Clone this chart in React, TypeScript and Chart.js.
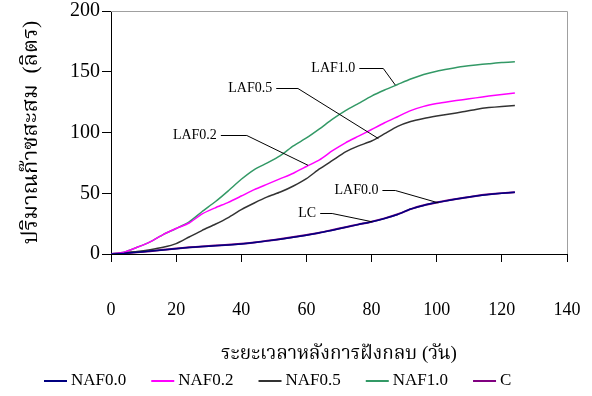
import React, { useEffect, useRef } from "react";
import { Chart, registerables } from "chart.js";

Chart.register(...registerables);

// ---- data ----
const days = [0, 4, 8, 12, 16, 20, 24, 28, 32, 36, 40, 44, 48, 52, 56, 60, 64, 68, 72, 76, 80, 84, 88, 92, 96, 100, 104, 108, 112, 116, 120, 124];
const naf00 = [0, 0.6, 1.5, 2.4, 3.3, 4.4, 5.4, 6.1, 6.8, 7.5, 8.3, 9.4, 10.8, 12.2, 13.8, 15.5, 17.4, 19.6, 22, 24.3, 26.5, 29.2, 32.5, 37, 40, 42.3, 44.3, 46.1, 47.7, 49, 50, 50.8];
const naf02 = [0, 1.5, 5.5, 10, 16, 21, 25.5, 33, 38, 42.5, 47.7, 53, 57.5, 62, 66.5, 72, 77.5, 85, 91.5, 97, 102.5, 108, 113, 118, 121.5, 123.8, 125.5, 127, 128.5, 130, 131.2, 132.5];
const naf05 = [0, 1, 2, 3.5, 5.5, 8.5, 14, 19.5, 24.5, 30, 36.5, 42, 47, 51, 56, 62, 70, 77, 84, 89, 93, 99, 105, 109, 111.5, 113.5, 115.3, 117, 119, 120.5, 121.5, 122.2];
const naf10 = [0, 1.5, 5.5, 10, 16, 21, 26.5, 35, 43, 52, 61.5, 69.5, 75, 81, 89, 95.5, 103, 111, 118, 124, 130, 135, 139.5, 144, 147.8, 150.5, 152.5, 154.3, 155.6, 156.6, 157.6, 158.2];
const ctrl = [0, 0.5, 1.4, 2.3, 3.4, 4.5, 5.5, 6.2, 6.9, 7.6, 8.4, 9.5, 10.9, 12.3, 13.9, 15.6, 17.5, 19.8, 22.1, 24.4, 26.6, 29.3, 32.7, 36.9, 40.1, 42.4, 44.4, 46.1, 47.8, 49.1, 50.1, 50.9];

const seriesNames = ["NAF0.0", "NAF0.2", "NAF0.5", "NAF1.0", "C"];
const seriesValues = [naf00, naf02, naf05, naf10, ctrl];
const seriesColors = ["#000080", "#ff00ff", "#333333", "#339966", "#800080"];

const xTitle = "ระยะเวลาหลังการฝังกลบ (วัน)";
const yTitle = "ปริมาณก๊าซสะสม  (ลิตร)";

// annotation callouts (in data units)
const annLabels = ["LAF1.0", "LAF0.5", "LAF0.2", "LAF0.0", "LC"];
const annTextX = [75.0, 49.5, 32.5, 82.1, 63.0];
const annTextY = [153, 136.6, 98, 52.8, 33.8];
const annElbowX = [83.6, 57.4, 41.7, 87.3, 67.9];
const annTargetX = [87.3, 82.1, 60.5, 100.5, 80.2];
const annTargetY = [139, 95, 73, 42.1, 26.5];

const SERIF = '"Liberation Serif", "Times New Roman", "Noto Serif Thai", "Noto Sans Thai", Loma, Garuda, serif';

const framePlugin = {
  id: "frame",
  beforeDatasetsDraw(chart: any) {
    const { ctx, chartArea } = chart;
    ctx.save();
    ctx.strokeStyle = "#a0a0a0";
    ctx.lineWidth = 1;
    ctx.beginPath();
    ctx.moveTo(chartArea.left, chartArea.top + 0.5);
    ctx.lineTo(chartArea.right + 0.5, chartArea.top + 0.5);
    ctx.lineTo(chartArea.right + 0.5, chartArea.bottom);
    ctx.stroke();
    ctx.restore();
  },
};

const annotationPlugin = {
  id: "callouts",
  afterDatasetsDraw(chart: any) {
    const { ctx } = chart;
    const xs = chart.scales.x;
    const ys = chart.scales.y;
    ctx.save();
    ctx.font = `14px ${SERIF}`;
    ctx.fillStyle = "#000";
    ctx.strokeStyle = "#000";
    ctx.lineWidth = 1;
    ctx.textAlign = "right";
    ctx.textBaseline = "middle";
    annLabels.forEach((lab, i) => {
      const tx = xs.getPixelForValue(annTextX[i]);
      const ty = ys.getPixelForValue(annTextY[i]);
      ctx.fillText(lab, tx, ty);
      ctx.beginPath();
      ctx.moveTo(tx + 4, Math.round(ty) + 0.5);
      ctx.lineTo(xs.getPixelForValue(annElbowX[i]), Math.round(ty) + 0.5);
      ctx.lineTo(xs.getPixelForValue(annTargetX[i]), ys.getPixelForValue(annTargetY[i]));
      ctx.stroke();
    });
    ctx.restore();
  },
};

const legendPlugin = {
  id: "customLegend",
  afterDraw(chart: any) {
    const { ctx } = chart;
    ctx.save();
    ctx.font = `17px ${SERIF}`;
    ctx.textAlign = "left";
    ctx.textBaseline = "middle";
    const y = 381;
    let x = 44;
    seriesNames.forEach((name, i) => {
      ctx.strokeStyle = seriesColors[i];
      ctx.lineWidth = 2;
      ctx.beginPath();
      ctx.moveTo(x, y);
      ctx.lineTo(x + 23, y);
      ctx.stroke();
      ctx.fillStyle = "#000";
      ctx.fillText(name, x + 27, y);
      x += 27 + ctx.measureText(name).width + 25;
    });
    ctx.restore();
  },
};

export default function App() {
  const ref = useRef<HTMLCanvasElement | null>(null);
  useEffect(() => {
    if (!ref.current) return;
    const chart = new Chart(ref.current, {
      type: "line",
      data: {
        datasets: seriesNames.map((name, i) => ({
          label: name,
          data: days.map((d, j) => ({ x: d, y: seriesValues[i][j] })),
          borderColor: seriesColors[i],
          backgroundColor: seriesColors[i],
          borderWidth: i === 4 ? 2 : 1.5,
          pointRadius: 0,
          tension: 0.2,
          fill: false,
        })),
      },
      options: {
        responsive: false,
        animation: false,
        layout: { padding: { top: 11, right: 25, left: 0, bottom: 0 } },
        plugins: {
          legend: { display: false },
          tooltip: { enabled: false },
        },
        scales: {
          x: {
            type: "linear",
            min: 0,
            max: 140,
            ticks: { stepSize: 20, color: "#000", font: { family: SERIF, size: 18 }, padding: 37, maxRotation: 0 },
            grid: { drawOnChartArea: false, drawTicks: true, tickLength: 8, color: "#000" },
            border: { display: true, color: "#000", width: 1 },
            title: { display: true, text: xTitle, color: "#000", font: { family: SERIF, size: 19 }, padding: { top: 0, bottom: 31 } },
            afterFit(scale: any) {
              scale.height = 142;
              scale.paddingLeft = 0;
              scale.paddingRight = 0;
            },
          },
          y: {
            type: "linear",
            min: 0,
            max: 200,
            ticks: { stepSize: 50, color: "#000", font: { family: SERIF, size: 20 }, padding: 2 },
            grid: { drawOnChartArea: false, drawTicks: true, tickLength: 9, color: "#000" },
            border: { display: true, color: "#000", width: 1 },
            title: { display: true, text: yTitle, color: "#000", font: { family: SERIF, size: 22 }, padding: { top: 18, bottom: 0 } },
            afterFit(scale: any) {
              scale.width = 111;
              scale.paddingTop = 0;
              scale.paddingBottom = 0;
            },
          },
        },
      },
      plugins: [framePlugin, annotationPlugin, legendPlugin],
    } as any);
    return () => chart.destroy();
  }, []);
  return (
    <div style={{ position: "fixed", left: 0, top: 0, width: 592, height: 396, background: "#fff" }}>
      <canvas ref={ref} width={592} height={396} style={{ display: "block" }} />
    </div>
  );
}
